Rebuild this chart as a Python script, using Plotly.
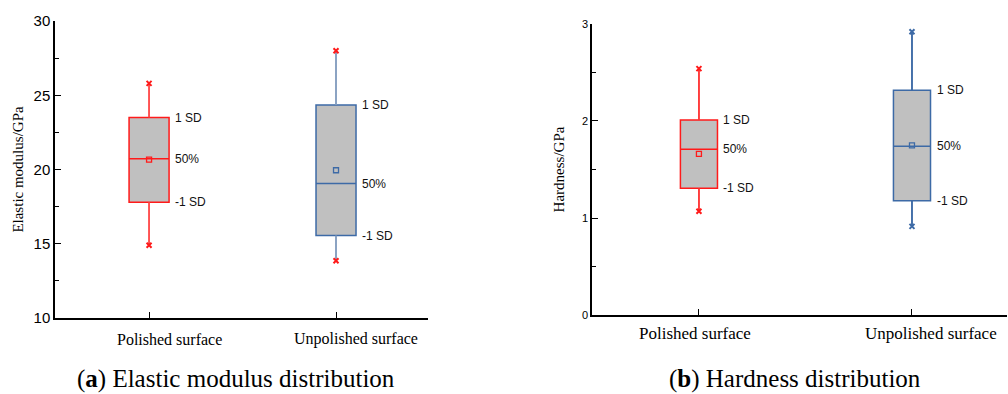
import plotly.graph_objects as go

categories = ["Polished surface", "Unpolished surface"]

# Elastic modulus (GPa)
em_upper = [25.8, 28.0]
em_q3 = [23.5, 24.35]
em_median = [20.73, 19.05]
em_mean = [20.66, 19.95]
em_q1 = [17.8, 15.55]
em_lower = [14.9, 13.86]

# Hardness (GPa)
h_upper = [2.54, 2.92]
h_q3 = [2.01, 2.316]
h_median = [1.708, 1.739]
h_mean = [1.66, 1.749]
h_q1 = [1.306, 1.179]
h_lower = [1.069, 0.914]

band_labels = ["1 SD", "50%", "-1 SD"]

RED = "#ff1a1a"
BLUE = "#3d6aa6"
box_line = [RED, BLUE]
whisker_line_a = ["rgba(255,90,90,0.8)", "#95aac6"]
whisker_line_b = ["rgba(255,60,60,0.9)", BLUE]
end_marker_a = [RED, RED]
end_marker_b = [RED, BLUE]
mean_marker = [RED, BLUE]

fig = go.Figure()

def add_panel(xa, ya, upper, q3, med, mean, q1, lower, width, wcols, ecols):
    for i, cat in enumerate(categories):
        fig.add_trace(go.Box(
            x=[i], q1=[q1[i]], median=[med[i]], q3=[q3[i]],
            lowerfence=[lower[i]], upperfence=[upper[i]],
            width=width, whiskerwidth=0,
            fillcolor="#c0c0c0", line=dict(color=box_line[i], width=1.5),
            boxpoints=False, name=cat, showlegend=False,
            xaxis=xa, yaxis=ya, hoverinfo="skip"))
        # lighter whiskers
        fig.add_trace(go.Scatter(
            x=[i, i, None, i, i], y=[q3[i], upper[i], None, q1[i], lower[i]],
            mode="lines", line=dict(color=wcols[i], width=1.5),
            showlegend=False, xaxis=xa, yaxis=ya, hoverinfo="skip"))
        fig.add_trace(go.Scatter(
            x=[i, i], y=[upper[i], lower[i]], mode="markers",
            marker=dict(symbol="x-thin", size=5, line=dict(color=ecols[i], width=2)),
            showlegend=False, xaxis=xa, yaxis=ya, hoverinfo="skip"))
        fig.add_trace(go.Scatter(
            x=[i], y=[mean[i]], mode="markers",
            marker=dict(symbol="square-open", size=5, color=mean_marker[i],
                        line=dict(width=1.3)),
            showlegend=False, xaxis=xa, yaxis=ya, hoverinfo="skip"))
        for lab, val in zip(band_labels, [q3[i], med[i], q1[i]]):
            fig.add_annotation(x=i + width / 2, y=val, xref=xa, yref=ya,
                               text=lab, showarrow=False, xanchor="left",
                               yanchor="middle", xshift=4,
                               font=dict(family="Liberation Sans", size=12,
                                         color="#111111"))

add_panel("x", "y", em_upper, em_q3, em_median, em_mean, em_q1, em_lower,
          0.214, whisker_line_a, end_marker_a)
add_panel("x2", "y2", h_upper, h_q3, h_median, h_mean, h_q1, h_lower,
          0.174, whisker_line_b, end_marker_b)

axis_common = dict(showline=True, linecolor="black", linewidth=1.5,
                   showgrid=False, zeroline=False, ticks="inside",
                   tickcolor="black", tickwidth=1.2, automargin=False)

fig.update_layout(
    width=1008, height=394, margin=dict(l=0, r=0, t=0, b=0),
    paper_bgcolor="white", plot_bgcolor="white", showlegend=False,
    xaxis=dict(domain=[0.0546, 0.4246], range=[-0.503, 1.492],
               tickvals=[0, 1], showticklabels=False, ticklen=6,
               **axis_common),
    yaxis=dict(domain=[0.1929, 0.9467], range=[10, 30], anchor="x",
               tickvals=[10, 15, 20, 25, 30], ticklen=6,
               minor=dict(tickvals=[12.5, 17.5, 22.5, 27.5], ticklen=4,
                          ticks="inside", tickcolor="black"),
               tickfont=dict(family="Liberation Sans", size=15, color="black"),
               title=dict(text="Elastic modulus/GPa", standoff=6,
                          font=dict(family="Liberation Serif", size=15,
                                    color="black")),
               **axis_common),
    xaxis2=dict(domain=[0.5873, 0.999], range=[-0.502, 1.446], anchor="y2",
                tickvals=[0, 1], showticklabels=False, ticklen=6,
                **axis_common),
    yaxis2=dict(domain=[0.2005, 0.9391], range=[0, 3], anchor="x2",
                tickvals=[0, 1, 2, 3], ticklen=6,
                minor=dict(tickvals=[0.5, 1.5, 2.5], ticklen=4,
                           ticks="inside", tickcolor="black"),
                tickfont=dict(family="Liberation Sans", size=11, color="black"),
                title=dict(text="Hardness/GPa", standoff=14,
                           font=dict(family="Liberation Serif", size=15,
                                     color="black")),
                **axis_common),
)

# Category labels (offset as in the source image)
cat_shift_a = [20, 20]
cat_shift_b = [-4, 19]
for i, cat in enumerate(categories):
    fig.add_annotation(x=i, y=1 - 339 / 394, xref="x", yref="paper", text=cat,
                       showarrow=False, xshift=cat_shift_a[i], yanchor="middle",
                       xanchor="center",
                       font=dict(family="Liberation Serif", size=16, color="black"))
    fig.add_annotation(x=i, y=1 - 333 / 394, xref="x2", yref="paper", text=cat,
                       showarrow=False, xshift=cat_shift_b[i], yanchor="middle",
                       xanchor="center",
                       font=dict(family="Liberation Serif", size=17, color="black"))

captions = ["(<b>a</b>) Elastic modulus distribution", "(<b>b</b>) Hardness distribution"]
caption_x = [236 / 1008, 795 / 1008]
for cap, cx in zip(captions, caption_x):
    fig.add_annotation(x=cx, y=1 - 379 / 394, xref="paper", yref="paper",
                       text=cap, showarrow=False, yanchor="middle", xanchor="center",
                       font=dict(family="Liberation Serif", size=25, color="black"))

fig.write_html("out.html", config={"displayModeBar": False},
               post_script="document.body.style.margin='0';document.body.style.overflow='hidden';")
